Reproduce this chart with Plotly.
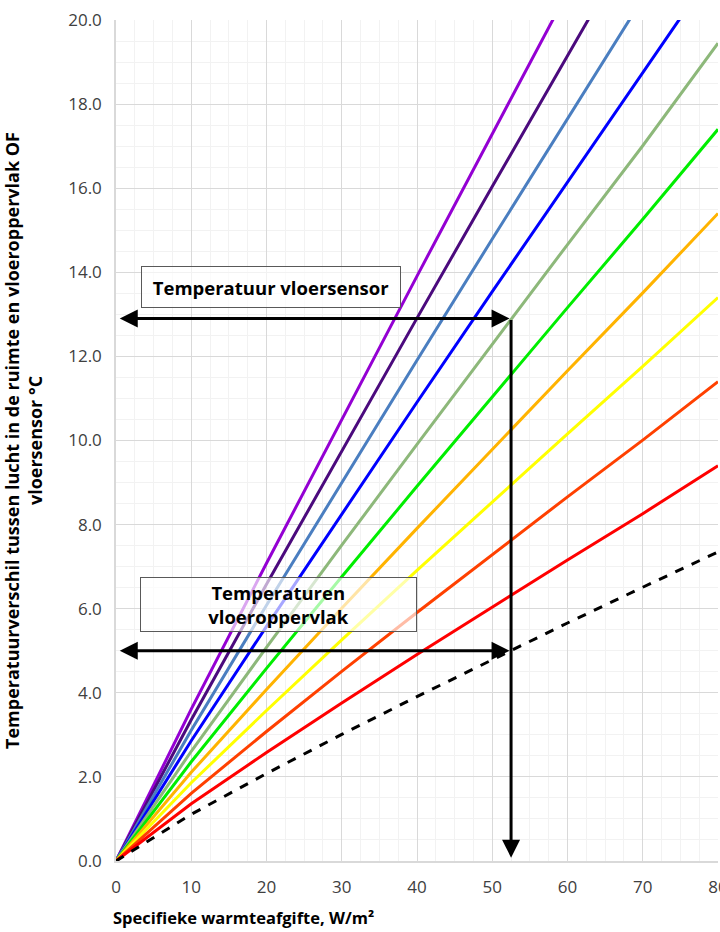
import plotly.graph_objects as go

# Specific heat output, W/m² (sample points)
q_values = [0, 10, 20, 30, 40, 50, 60, 70, 80]

# Temperature difference (°C) per curve at q_values
surface_dt = [0, 1.11, 2.08, 3.01, 3.91, 4.79, 5.66, 6.51, 7.35]          # dashed black
sensor_red = [0, 1.36, 2.58, 3.76, 4.91, 6.04, 7.16, 8.26, 9.40]
sensor_redorange = [0, 1.61, 3.08, 4.51, 5.91, 7.29, 8.66, 10.01, 11.40]
sensor_yellow = [0, 1.86, 3.58, 5.26, 6.91, 8.54, 10.16, 11.76, 13.40]
sensor_orange = [0, 2.11, 4.08, 6.01, 7.91, 9.79, 11.66, 13.51, 15.40]
sensor_green = [0, 2.36, 4.58, 6.76, 8.91, 11.04, 13.16, 15.26, 17.40]
sensor_greygreen = [0, 2.61, 5.08, 7.51, 9.91, 12.29, 14.66, 17.01, 19.45]
sensor_blue = [0, 2.86, 5.58, 8.26, 10.91, 13.54, 16.16, 18.76, 21.35]
sensor_steelblue = [0, 3.11, 6.08, 9.01, 11.91, 14.79, 17.66, 20.51]
sensor_indigo = [0, 3.36, 6.58, 9.76, 12.91, 16.04, 19.16, 22.26]
sensor_violet = [0, 3.61, 7.08, 10.51, 13.91, 17.29, 20.66]

# Reading example
q_design = 52.5
t_sensor_example = 12.9
t_surface_example = 5.0

x_ticks = [0, 10, 20, 30, 40, 50, 60, 70, 80]
y_ticks = [0, 2, 4, 6, 8, 10, 12, 14, 16, 18, 20]

series = [
    (sensor_violet, "#9400D3"),
    (sensor_indigo, "#4B0A7D"),
    (sensor_steelblue, "#4A7EC0"),
    (sensor_blue, "#0000FF"),
    (sensor_greygreen, "#8DB87A"),
    (sensor_green, "#00EE00"),
    (sensor_orange, "#FFB300"),
    (sensor_yellow, "#FFFF00"),
    (sensor_redorange, "#FF4000"),
    (sensor_red, "#FF0000"),
]

fig = go.Figure()
for vals, col in series:
    fig.add_trace(go.Scatter(
        x=q_values[:len(vals)], y=vals, mode="lines",
        line=dict(color=col, width=3), showlegend=False, hoverinfo="skip"))

fig.add_trace(go.Scatter(
    x=q_values, y=surface_dt, mode="lines",
    line=dict(color="black", width=3, dash="dash"),
    showlegend=False, hoverinfo="skip"))

font_family = "Open Sans, Noto Sans, sans-serif"

annotations = []
# Horizontal double arrow at sensor temperature
annotations.append(dict(
    x=q_design - 0.2, y=t_sensor_example, ax=0.3, ay=t_sensor_example,
    xref="x", yref="y", axref="x", ayref="y", text="", showarrow=True,
    arrowhead=2, startarrowhead=2, arrowside="end+start",
    arrowsize=1.2, startarrowsize=1.2, arrowwidth=3, arrowcolor="black"))
# Vertical arrow down
annotations.append(dict(
    x=q_design, y=0.08, ax=q_design, ay=t_sensor_example,
    xref="x", yref="y", axref="x", ayref="y", text="", showarrow=True,
    arrowhead=2, arrowsize=1.2, arrowwidth=3, arrowcolor="black"))
# Horizontal double arrow at surface temperature
annotations.append(dict(
    x=q_design - 0.2, y=t_surface_example, ax=0.3, ay=t_surface_example,
    xref="x", yref="y", axref="x", ayref="y", text="", showarrow=True,
    arrowhead=2, startarrowhead=2, arrowside="end+start",
    arrowsize=1.2, startarrowsize=1.2, arrowwidth=3, arrowcolor="black"))

# Text boxes
annotations.append(dict(
    x=20.6, y=13.65, xref="x", yref="y", text="<b>Temperatuur vloersensor</b>",
    showarrow=False, font=dict(family=font_family, size=18.5, color="black"),
    bgcolor="rgba(255,255,255,0.65)", bordercolor="#595959", borderwidth=1,
    width=256, height=38, align="center"))
annotations.append(dict(
    x=21.6, y=6.1, xref="x", yref="y", text="<b>Temperaturen<br>vloeroppervlak</b>",
    showarrow=False, font=dict(family=font_family, size=18.5, color="black"),
    bgcolor="rgba(255,255,255,0.65)", bordercolor="#595959", borderwidth=1,
    width=273, height=51, align="center"))

# X axis title (left aligned)
annotations.append(dict(
    x=0, y=0, xref="paper", yref="paper", xanchor="left", yanchor="middle",
    xshift=-5, yshift=-56, showarrow=False,
    text="<b>Specifieke warmteafgifte, W/m²</b>",
    font=dict(family=font_family, size=16.5, color="black")))

fig.update_layout(
    width=720, height=932,
    margin=dict(l=116, r=2, t=20, b=71),
    paper_bgcolor="white", plot_bgcolor="white",
    font=dict(family=font_family, size=17, color="#404040"),
    annotations=annotations,
)

fig.update_xaxes(
    range=[0, 80], tickvals=x_ticks, ticktext=[str(v) for v in x_ticks],
    showgrid=True, gridcolor="#D9D9D9", gridwidth=1,
    minor=dict(dtick=2.5, showgrid=True, gridcolor="#F2F2F2", gridwidth=1),
    showline=True, linecolor="#D9D9D9", linewidth=1.5, zeroline=False,
    ticks="outside", ticklen=10, tickcolor="rgba(0,0,0,0)",
    ticklabeloverflow="allow", automargin=False,
    tickfont=dict(family=font_family, size=17, color="#404040"),
)
fig.update_yaxes(
    range=[0, 20], tickvals=y_ticks, ticktext=[f"{v:.1f}" for v in y_ticks],
    showgrid=True, gridcolor="#D9D9D9", gridwidth=1,
    minor=dict(dtick=0.5, showgrid=True, gridcolor="#F2F2F2", gridwidth=1),
    showline=True, linecolor="#D9D9D9", linewidth=1.5, zeroline=False,
    ticks="outside", ticklen=9, tickcolor="rgba(0,0,0,0)", automargin=False,
    tickfont=dict(family=font_family, size=17, color="#404040"),
    title=dict(
        text="<b>Temperatuurverschil tussen lucht in de ruimte en vloeroppervlak OF<br>vloersensor °C</b>",
        font=dict(family=font_family, size=18, color="black"),
        standoff=23),
)

fig.write_html(
    "out.html",
    config={"displayModeBar": False},
    post_script="document.body.style.margin='0';document.body.style.overflow='hidden';",
)
